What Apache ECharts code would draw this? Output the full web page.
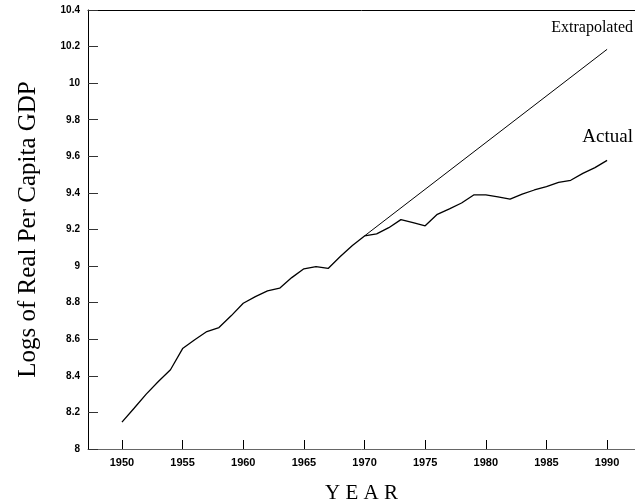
<!DOCTYPE html>
<html>
<head>
<meta charset="utf-8">
<script src="https://cdn.jsdelivr.net/npm/echarts@6/dist/echarts.min.js"></script>
<style>html,body{margin:0;padding:0;background:#fff}#c{width:635px;height:504px}</style>
</head>
<body>
<div id="c"></div>
<script>
var years = [1950,1951,1952,1953,1954,1955,1956,1957,1958,1959,1960,1961,1962,1963,1964,1965,1966,1967,1968,1969,1970,1971,1972,1973,1974,1975,1976,1977,1978,1979,1980,1981,1982,1983,1984,1985,1986,1987,1988,1989,1990];
var actual = [8.147,8.223,8.30,8.369,8.433,8.549,8.597,8.642,8.664,8.728,8.797,8.833,8.864,8.879,8.937,8.985,8.997,8.987,9.052,9.112,9.165,9.176,9.21,9.254,9.238,9.22,9.283,9.313,9.345,9.389,9.389,9.378,9.366,9.393,9.416,9.435,9.458,9.469,9.507,9.538,9.578];
var extrapYears = [1970, 1990];
var extrapolated = [9.165, 10.185];
var xTicks = [1950,1955,1960,1965,1970,1975,1980,1985,1990];
var yTicks = [8,8.2,8.4,8.6,8.8,9,9.2,9.4,9.6,9.8,10,10.2,10.4];

var chart = echarts.init(document.getElementById('c'));
chart.setOption({
  animation: false,
  backgroundColor: '#fff',
  grid: {left: 88, right: 0, top: 10, bottom: 55, containLabel: false, outerBoundsMode: 'none'},
  xAxis: [{
    type: 'value', min: 1947.2, max: 1992.3,
    name: 'Y E A R', nameLocation: 'middle', nameGap: 34,
    nameTextStyle: {fontFamily: 'Liberation Serif', fontSize: 21, color: '#000'},
    axisLine: {show: true, lineStyle: {color: '#666', width: 1}},
    axisTick: {show: true, inside: true, length: 9, customValues: xTicks, lineStyle: {color: '#000'}},
    axisLabel: {customValues: xTicks, fontFamily: 'Liberation Sans', fontWeight: 'bold', fontSize: 11, color: '#000', margin: 8, formatter: function(v){return String(v);}},
    splitLine: {show: false}
  }, {
    type: 'value', min: 1947.2, max: 1992.3, position: 'top',
    axisLine: {show: true, onZero: false, lineStyle: {color: '#000', width: 1}},
    axisTick: {show: false}, axisLabel: {show: false}, splitLine: {show: false}
  }],
  yAxis: {
    type: 'value', min: 8, max: 10.4,
    name: 'Logs of Real Per Capita GDP', nameLocation: 'middle', nameGap: 47,
    nameTextStyle: {fontFamily: 'Liberation Serif', fontSize: 25, color: '#000'},
    axisLine: {show: true, lineStyle: {color: '#000', width: 1}},
    axisTick: {show: true, inside: true, length: 10, customValues: yTicks, lineStyle: {color: '#333'}},
    axisLabel: {customValues: yTicks, fontFamily: 'Liberation Sans', fontWeight: 'bold', fontSize: 10, color: '#000', margin: 8,
      formatter: function(v){ return String(Math.round(v*10)/10); }},
    splitLine: {show: false}
  },
  series: [{
    type: 'line', xAxisIndex: 0,
    data: years.map(function(y,i){return [y, actual[i]];}),
    showSymbol: false, lineStyle: {color: '#000', width: 1.3}
  }, {
    type: 'line', xAxisIndex: 0,
    data: extrapYears.map(function(y,i){return [y, extrapolated[i]];}),
    showSymbol: false, lineStyle: {color: '#000', width: 1}
  }],
  graphic: [
    {type: 'text', right: 2, top: 20, style: {text: 'Extrapolated', fontFamily: 'Liberation Serif', fontSize: 16, fill: '#000'}},
    {type: 'text', right: 2, top: 128, style: {text: 'Actual', fontFamily: 'Liberation Serif', fontSize: 19, fill: '#000'}}
  ]
});
</script>
</body>
</html>
